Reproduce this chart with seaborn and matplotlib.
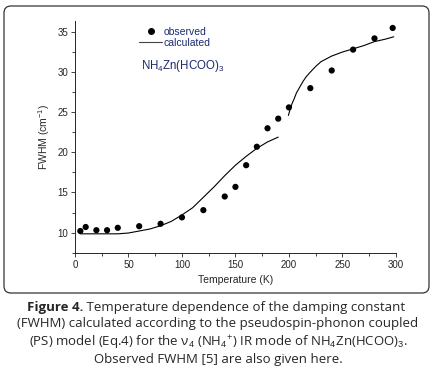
import matplotlib
matplotlib.use("Agg")
import matplotlib.pyplot as plt
import pandas as pd
import seaborn as sns
from matplotlib.lines import Line2D
from matplotlib.patches import FancyBboxPatch
from matplotlib.ticker import MultipleLocator

# --- data ---
obs_temp = [5, 10, 20, 30, 40, 60, 80, 100, 120, 140, 150, 160, 170, 180, 190,
            200, 220, 240, 260, 280, 297]
obs_fwhm = [10.2, 10.7, 10.3, 10.3, 10.6, 10.8, 11.1, 11.9, 12.8, 14.5, 15.7,
            18.4, 20.7, 23.0, 24.2, 25.6, 28.0, 30.2, 32.8, 34.2, 35.5]

# calculated curve, low-temperature branch (T < Tc)
calc_low_temp = [5, 20, 40, 50, 60, 70, 80, 90, 100, 110, 120, 130, 140, 150,
                 160, 170, 180, 190]
calc_low_fwhm = [9.85, 9.85, 9.85, 9.95, 10.2, 10.45, 10.85, 11.4, 12.2, 13.1,
                 14.4, 15.7, 17.1, 18.4, 19.5, 20.5, 21.3, 21.9]

# calculated curve, high-temperature branch (T > Tc)
calc_high_temp = [199.5, 201, 203, 205, 207, 210, 213, 216, 220, 225, 230, 240,
                  250, 260, 270, 280, 290, 298]
calc_high_fwhm = [24.6, 25.3, 26.1, 26.7, 27.4, 28.1, 28.8, 29.4, 30.0, 30.7,
                  31.3, 32.0, 32.5, 32.9, 33.3, 33.8, 34.1, 34.4]

legend_labels = ["observed", "calculated"]
compound = "NH$_4$Zn(HCOO)$_3$"
caption_bold = "Figure 4."
caption_first = " Temperature dependence of the damping constant"
caption_lines = [
    "(FWHM) calculated according to the pseudospin-phonon coupled",
    "(PS) model (Eq.4) for the ν$_4$ (NH$_4$$^{+}$) IR mode of NH$_4$Zn(HCOO)$_3$.",
    "Observed FWHM [5] are also given here.",
]

calc = pd.concat([
    pd.DataFrame({"T": calc_low_temp, "FWHM": calc_low_fwhm, "branch": "low"}),
    pd.DataFrame({"T": calc_high_temp, "FWHM": calc_high_fwhm, "branch": "high"}),
])
obs = pd.DataFrame({"T": obs_temp, "FWHM": obs_fwhm})

sns.set_style("ticks")
plt.rcParams["font.family"] = ["Liberation Sans", "DejaVu Sans"]
plt.rcParams["mathtext.fontset"] = "custom"
plt.rcParams["mathtext.rm"] = "Liberation Sans"
plt.rcParams["mathtext.it"] = "Liberation Sans:italic"

navy = "#1b2a6e"

fig = plt.figure(figsize=(4.36, 3.79), dpi=100)
ax = fig.add_axes([0.172, 0.3333, 0.736, 0.612])

sns.lineplot(data=calc, x="T", y="FWHM", units="branch", estimator=None,
             color="black", linewidth=0.8, ax=ax, legend=False)
sns.scatterplot(data=obs, x="T", y="FWHM", color="black", s=20,
                edgecolor="none", ax=ax, legend=False)

ax.set_xlim(0, 300)
ax.set_ylim(7.5, 36.4)
ax.xaxis.set_major_locator(MultipleLocator(50))
ax.xaxis.set_minor_locator(MultipleLocator(25))
ax.yaxis.set_major_locator(MultipleLocator(5))
ax.yaxis.set_minor_locator(MultipleLocator(2.5))
ax.tick_params(which="major", length=3, width=0.6, labelsize=7, pad=2)
ax.tick_params(which="minor", length=2, width=0.6)
for s in ["left", "bottom"]:
    ax.spines[s].set_linewidth(0.7)
sns.despine(ax=ax)
ax.set_xlabel("Temperature (K)", fontsize=7.5, labelpad=4)
ax.set_ylabel("FWHM (cm$^{-1}$)", fontsize=7.5, labelpad=4)

handles = [
    Line2D([], [], marker="o", color="black", linestyle="none", markersize=4),
    Line2D([], [], color="#444444", linewidth=0.8),
]
leg = ax.legend(handles, legend_labels, loc="upper left",
                bbox_to_anchor=(0.2, 0.975), frameon=False, fontsize=7.5,
                handlelength=2.2, handletextpad=0.1, labelspacing=0.1,
                borderpad=0, borderaxespad=0)
for t in leg.get_texts():
    t.set_color(navy)

fig.text(141 / 436, 1 - 66 / 379, compound, color=navy,
         fontsize=8.3, va="center", ha="left")

# rounded frame around the plot panel
frame = FancyBboxPatch((0.04, 0.86), 4.25, 2.87,
                       boxstyle="round,pad=0,rounding_size=0.07",
                       transform=fig.dpi_scale_trans, fill=False,
                       edgecolor="#333333", linewidth=0.9)
fig.patches.append(frame)

# caption
cap_font = ["Open Sans", "DejaVu Sans"]
bold = fig.text(27 / 436, 1 - 307 / 379, caption_bold, fontsize=9.5,
                fontweight="bold", family=cap_font, va="center", ha="left")
ax.annotate(caption_first, xy=(1, 0.5), xycoords=bold, va="center",
            ha="left", fontsize=9.5, family=cap_font, annotation_clip=False)
for i, line in enumerate(caption_lines):
    fig.text(0.5, 1 - (324 + 17.7 * i) / 379, line, fontsize=9.5,
             family=cap_font, va="center", ha="center")

fig.savefig("out.png", dpi=100)
